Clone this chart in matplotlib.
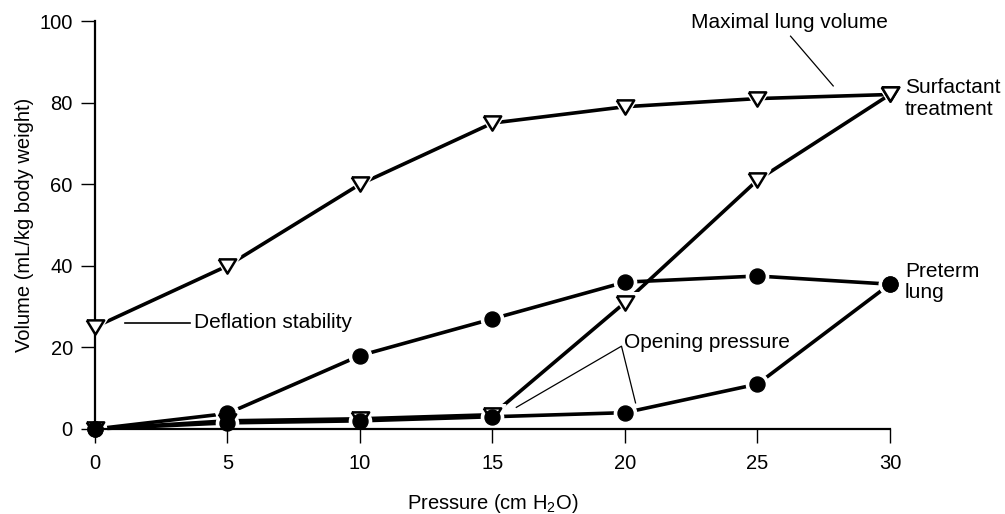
import matplotlib
matplotlib.use("Agg")
import matplotlib.pyplot as plt

plt.rcParams['font.family'] = ['Liberation Sans', 'DejaVu Sans']
plt.rcParams['mathtext.fontset'] = 'custom'
plt.rcParams['mathtext.rm'] = 'Liberation Sans'
plt.rcParams['mathtext.it'] = 'Liberation Sans'
plt.rcParams['mathtext.bf'] = 'Liberation Sans'

pressure = [0, 5, 10, 15, 20, 25, 30]
surf_deflation = [25, 40, 60, 75, 79, 81, 82]
surf_inflation = [0, 2, 2.5, 3.5, 31, 61, 82]
pre_deflation = [0, 3.8, 18, 27, 36, 37.5, 35.5]
pre_inflation = [0, 1.5, 2, 3, 4, 11, 35.5]

x_ticks = [0, 5, 10, 15, 20, 25, 30]
y_ticks = [0, 20, 40, 60, 80, 100]

fig = plt.figure(figsize=(10.05, 5.14), dpi=100)
ax = fig.add_axes([0.0945, 0.1654, 0.791, 0.7936])
ax.set_axisbelow(False)

tri = [(-1, 0.82), (1, 0.82), (0, -0.82), (-1, 0.82)]

lw = 2.6
series = [
    (surf_deflation, 'v'),
    (surf_inflation, 'v'),
    (pre_deflation, 'o'),
    (pre_inflation, 'o'),
]
for ys, m in series:
    ax.plot(pressure, ys, color='black', lw=lw, solid_capstyle='butt',
            zorder=2, clip_on=False)
for ys, m in series:
    if m == 'v':
        ax.plot(pressure, ys, linestyle='none', marker=tri, ms=19,
                mfc='white', mec='white', zorder=2.2, clip_on=False)
    else:
        ax.plot(pressure, ys, linestyle='none', marker='o', ms=16,
                mfc='white', mec='white', zorder=2.2, clip_on=False)
for ys, m in series:
    if m == 'v':
        ax.plot(pressure, ys, linestyle='none', marker=tri, ms=12.5,
                mfc='white', mec='black', mew=1.8, zorder=4, clip_on=False)
    else:
        ax.plot(pressure, ys, linestyle='none', marker='o', ms=10.8,
                mfc='black', mec='black', zorder=5, clip_on=False)

ax.set_xlim(0, 30)
ax.set_ylim(0, 100)
ax.set_xticks(x_ticks)
ax.set_yticks(y_ticks)
ax.tick_params(direction='out', length=10, width=1.0, labelsize=14.5)
ax.tick_params(axis='x', pad=8)
ax.tick_params(axis='y', pad=6)
for s in ['top', 'right']:
    ax.spines[s].set_visible(False)
for s in ['left', 'bottom']:
    ax.spines[s].set_linewidth(1.6)
    ax.spines[s].set_zorder(2.5)

ax.set_xlabel('Pressure (cm H$_2$O)', fontsize=14.5, labelpad=14)
ax.set_ylabel('Volume (mL/kg body weight)', fontsize=14.5, labelpad=4)

fs = 15
# annotations
ax.text(26.2, 99.6, 'Maximal lung volume', fontsize=fs, ha='center', va='center')
ax.plot([26.25, 27.86], [96.3, 84.1], color='black', lw=0.9, clip_on=False)

ax.text(30.57, 81, 'Surfactant\ntreatment', fontsize=fs, ha='left', va='center',
        linespacing=1.15)
ax.text(30.57, 36, 'Preterm\nlung', fontsize=fs, ha='left', va='center',
        linespacing=1.15)

ax.plot([1.13, 3.6], [26, 26], color='black', lw=1.2)
ax.text(3.75, 26, 'Deflation stability', fontsize=fs, ha='left', va='center')

ax.text(19.96, 21.2, 'Opening pressure', fontsize=fs, ha='left', va='center')
ax.plot([15.9, 19.87, 20.4], [5.3, 20.3, 6.4], color='black', lw=0.9)

fig.savefig('out.png', dpi=100)
